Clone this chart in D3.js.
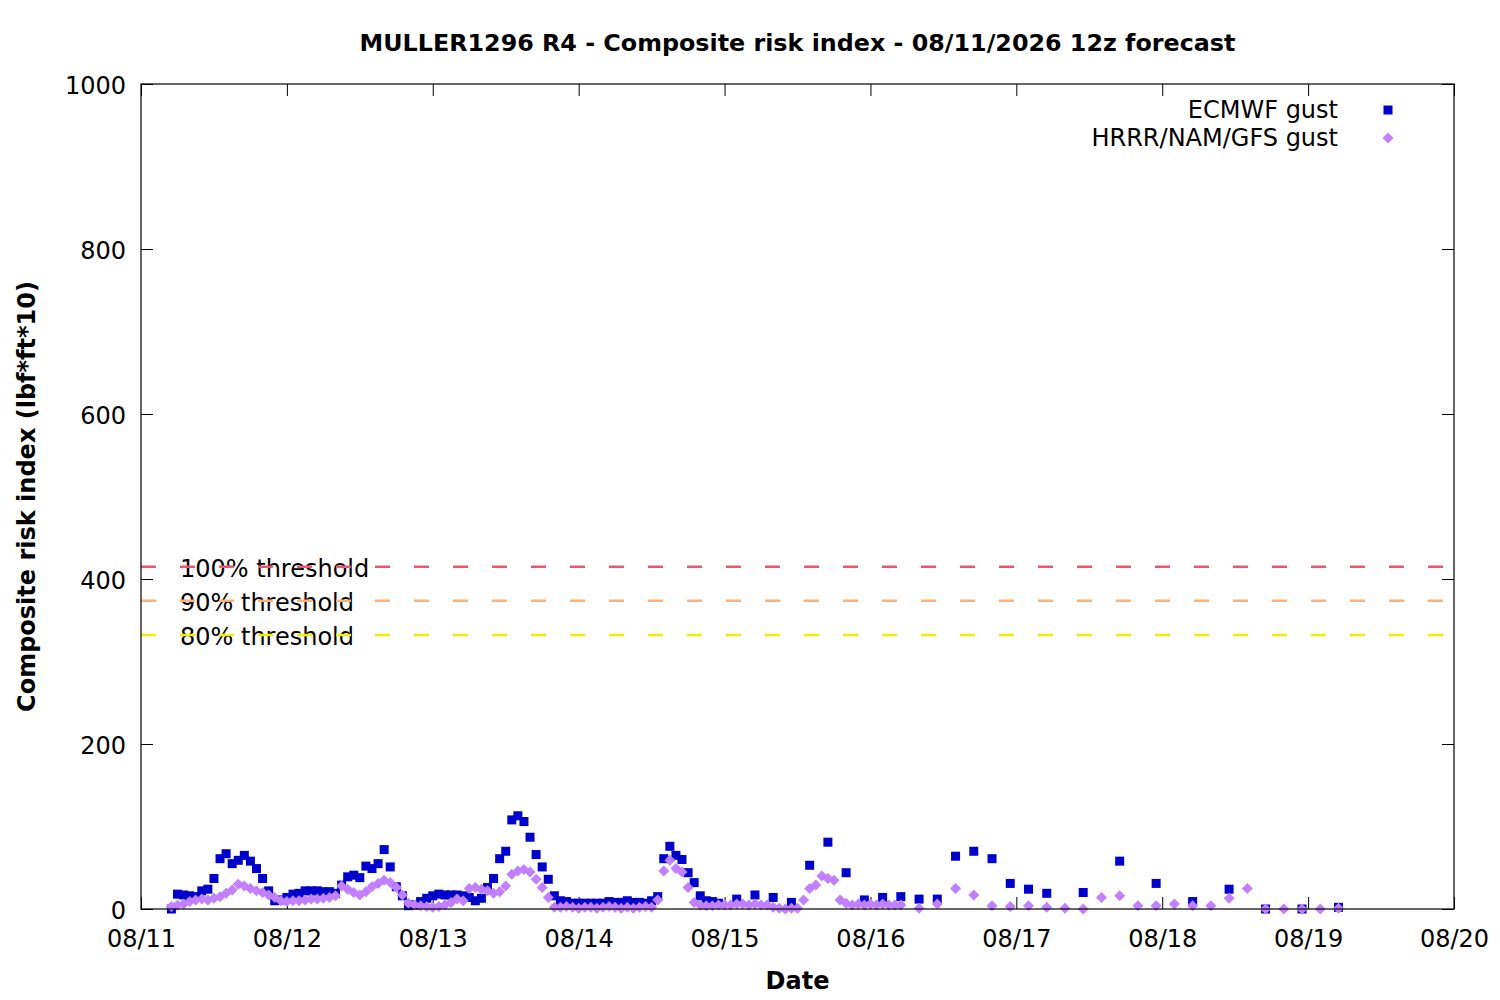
<!DOCTYPE html>
<html lang="en">
  <head>
    <meta charset="UTF-8" />
    <script src="https://cdn.jsdelivr.net/npm/d3@7"></script>
    <style>
      body { margin: 0; background: #fff; }
      text { font-family: "DejaVu Sans", sans-serif; font-size: 24px; fill: #000; }
    </style>
  </head>
  <body>
    <div id="fig"></div>
    <script>
      const width = 1500;
      const height = 1000;
      const margins = { top: 84, bottom: 91, left: 141, right: 46 };

      // forecast start: 08/11 12z shown as local time 05:00
      const runStart = Date.UTC(2026, 7, 11, 5);
      const dayTicks = ["08/11", "08/12", "08/13", "08/14", "08/15", "08/16", "08/17", "08/18", "08/19", "08/20"];
      const yTicks = [0, 200, 400, 600, 800, 1000];

      // ECMWF: hourly to 90h, 3-hourly to 144h, 6-hourly to 192h
      const ecmwfSteps = [[0, 90, 1], [93, 144, 3], [150, 192, 6]];
      const ecmwfGust = [
        0, 18, 17, 16, 15, 22, 24, 37, 61, 67,
        55, 59, 65, 58, 49, 37, 22, 10, 11, 14,
        18, 19, 22, 22, 22, 21, 21, 19, 29, 39,
        41, 38, 52, 49, 55, 72, 51, 27, 16, 4,
        5, 9, 13, 16, 18, 17, 17, 17, 16, 14,
        10, 13, 26, 37, 61, 70, 108, 113, 106, 87,
        66, 51, 36, 16, 10, 9, 7, 7, 7, 7,
        7, 7, 9, 8, 8, 10, 8, 8, 7, 10,
        15, 61, 76, 65, 60, 44, 32, 16, 10, 9,
        7,
        12, 17, 14, 8, 53, 81, 44, 11, 14, 15, 12, 12, 64, 70, 61, 31, 24, 19,
        20, 58, 31, 9, 24, 0, 0, 2
      ];

      // HRRR/NAM/GFS: hourly to 120h, 3-hourly to 192h
      const hrrrSteps = [[0, 120, 1], [123, 192, 3]];
      const hrrrGust = [
        3, 5, 6, 9, 11, 12, 11, 13, 15, 19,
        23, 30, 28, 25, 22, 20, 17, 14, 10, 9,
        10, 10, 11, 12, 12, 13, 14, 16, 28, 24,
        20, 17, 21, 27, 31, 35, 32, 26, 17, 7,
        5, 4, 3, 2, 3, 5, 8, 12, 10, 25,
        26, 24, 22, 19, 21, 28, 42, 46, 48, 45,
        36, 26, 14, 2, 2, 3, 2, 1, 2, 2,
        1, 2, 3, 2, 1, 2, 1, 2, 3, 2,
        11, 46, 59, 49, 45, 26, 8, 5, 4, 4,
        5, 5, 5, 6, 6, 5, 6, 5, 5, 2,
        1, 0, 1, 1, 11, 25, 29, 40, 37, 35,
        11, 7, 5, 6, 5, 6, 5, 6, 5, 5,
        5,
        1, 6, 25, 17, 4, 3, 4, 2, 1, 0, 14, 16, 4, 4, 6, 4, 4, 13, 25, 0, 0, 0, 0, 1
      ];

      const thresholds = [
        { label: "100% threshold", value: 415, color: "#e8586f" },
        { label: "90% threshold", value: 373.5, color: "#fcb27a" },
        { label: "80% threshold", value: 332, color: "#eeee00" },
      ];

      const hoursFrom = (steps) =>
        steps.flatMap(([a, b, s]) => d3.range(a, b + 1, s));
      const toPoints = (steps, values) =>
        hoursFrom(steps).map((h, i) => ({ t: new Date(runStart + h * 3600e3), v: values[i] }));

      const ecmwf = toPoints(ecmwfSteps, ecmwfGust);
      const hrrr = toPoints(hrrrSteps, hrrrGust);

      const innerW = width - margins.left - margins.right;
      const innerH = height - margins.top - margins.bottom;

      const parseDay = d3.utcParse("%m/%d/%Y");
      const dayDates = dayTicks.map((d) => parseDay(d + "/2026"));

      const xScale = d3.scaleUtc()
        .domain([dayDates[0], dayDates[dayDates.length - 1]])
        .range([0, innerW]);
      const yScale = d3.scaleLinear().domain([0, 1000]).range([innerH, 0]);

      const svg = d3.select("#fig")
        .append("svg")
        .attr("width", width)
        .attr("height", height);

      svg.append("text")
        .attr("x", margins.left + innerW / 2)
        .attr("y", 51)
        .attr("text-anchor", "middle")
        .style("font-weight", "bold")
        .style("font-size", "23.8px")
        .text("MULLER1296 R4 - Composite risk index - 08/11/2026 12z forecast");

      svg.append("text")
        .attr("x", margins.left + innerW / 2)
        .attr("y", 989)
        .attr("text-anchor", "middle")
        .style("font-weight", "bold")
        .text("Date");

      svg.append("text")
        .attr("transform", `translate(35,${margins.top + innerH / 2}) rotate(-90)`)
        .attr("text-anchor", "middle")
        .style("font-weight", "bold")
        .text("Composite risk index (lbf*ft*10)");

      const g = svg.append("g")
        .attr("transform", `translate(${margins.left},${margins.top})`);

      // axes, gnuplot style: inward ticks mirrored on all sides
      const fmt = d3.utcFormat("%m/%d");
      const xb = g.append("g")
        .attr("transform", `translate(0,${innerH})`)
        .call(d3.axisBottom(xScale).tickValues(dayDates).tickFormat(fmt)
          .tickSizeInner(-12).tickSizeOuter(0).tickPadding(21));
      const xt = g.append("g")
        .call(d3.axisTop(xScale).tickValues(dayDates).tickFormat("")
          .tickSizeInner(-12).tickSizeOuter(0));
      const yl = g.append("g")
        .call(d3.axisLeft(yScale).tickValues(yTicks).tickFormat(d3.format("d"))
          .tickSizeInner(-12).tickSizeOuter(0).tickPadding(15));
      const yr = g.append("g")
        .attr("transform", `translate(${innerW},0)`)
        .call(d3.axisRight(yScale).tickValues(yTicks).tickFormat("")
          .tickSizeInner(-12).tickSizeOuter(0));

      [xb, xt, yl, yr].forEach((a) => {
        a.select(".domain").remove();
        a.selectAll(".tick line").attr("stroke", "#000").attr("stroke-width", 1);
        a.selectAll("text")
          .attr("font-family", null)
          .attr("font-size", null)
          .attr("fill", null);
      });
      yl.selectAll(".tick text").attr("dy", "0.38em");

      // threshold labels, lines drawn over them
      g.selectAll(".thr-label")
        .data(thresholds)
        .join("text")
        .attr("class", "thr-label")
        .attr("x", 39)
        .attr("y", (d) => yScale(d.value) + 10)
        .text((d) => d.label);

      g.selectAll(".thr-line")
        .data(thresholds)
        .join("line")
        .attr("class", "thr-line")
        .attr("x1", 0)
        .attr("x2", innerW)
        .attr("y1", (d) => yScale(d.value))
        .attr("y2", (d) => yScale(d.value))
        .attr("stroke", (d) => d.color)
        .attr("stroke-width", 2.5)
        .attr("stroke-dasharray", "15 24");

      const sq = 9;
      const diamond = (r) => `M0,${-r}L${r},0L0,${r}L${-r},0Z`;

      g.append("g")
        .selectAll("rect")
        .data(ecmwf)
        .join("rect")
        .attr("x", (d) => xScale(d.t) - sq / 2)
        .attr("y", (d) => yScale(d.v) - sq / 2)
        .attr("width", sq)
        .attr("height", sq)
        .attr("fill", "#0000cc");

      g.append("g")
        .selectAll("path")
        .data(hrrr)
        .join("path")
        .attr("transform", (d) => `translate(${xScale(d.t)},${yScale(d.v)})`)
        .attr("d", diamond(5.5))
        .attr("fill", "#c080ff");

      // legend
      const legend = [
        { name: "ECMWF gust", shape: "square", color: "#0000cc" },
        { name: "HRRR/NAM/GFS gust", shape: "diamond", color: "#c080ff" },
      ];
      const lg = svg.append("g");
      legend.forEach((d, i) => {
        const y = 110 + i * 28;
        lg.append("text")
          .attr("x", 1338)
          .attr("y", y + 8)
          .attr("text-anchor", "end")
          .text(d.name);
        if (d.shape === "square") {
          lg.append("rect")
            .attr("x", 1388 - sq / 2)
            .attr("y", y - sq / 2)
            .attr("width", sq)
            .attr("height", sq)
            .attr("fill", d.color);
        } else {
          lg.append("path")
            .attr("transform", `translate(1388,${y})`)
            .attr("d", diamond(5.5))
            .attr("fill", d.color);
        }
      });

      // frame
      g.append("rect")
        .attr("width", innerW)
        .attr("height", innerH)
        .attr("fill", "none")
        .attr("stroke", "#000")
        .attr("stroke-width", 1.2);
    </script>
  </body>
</html>
